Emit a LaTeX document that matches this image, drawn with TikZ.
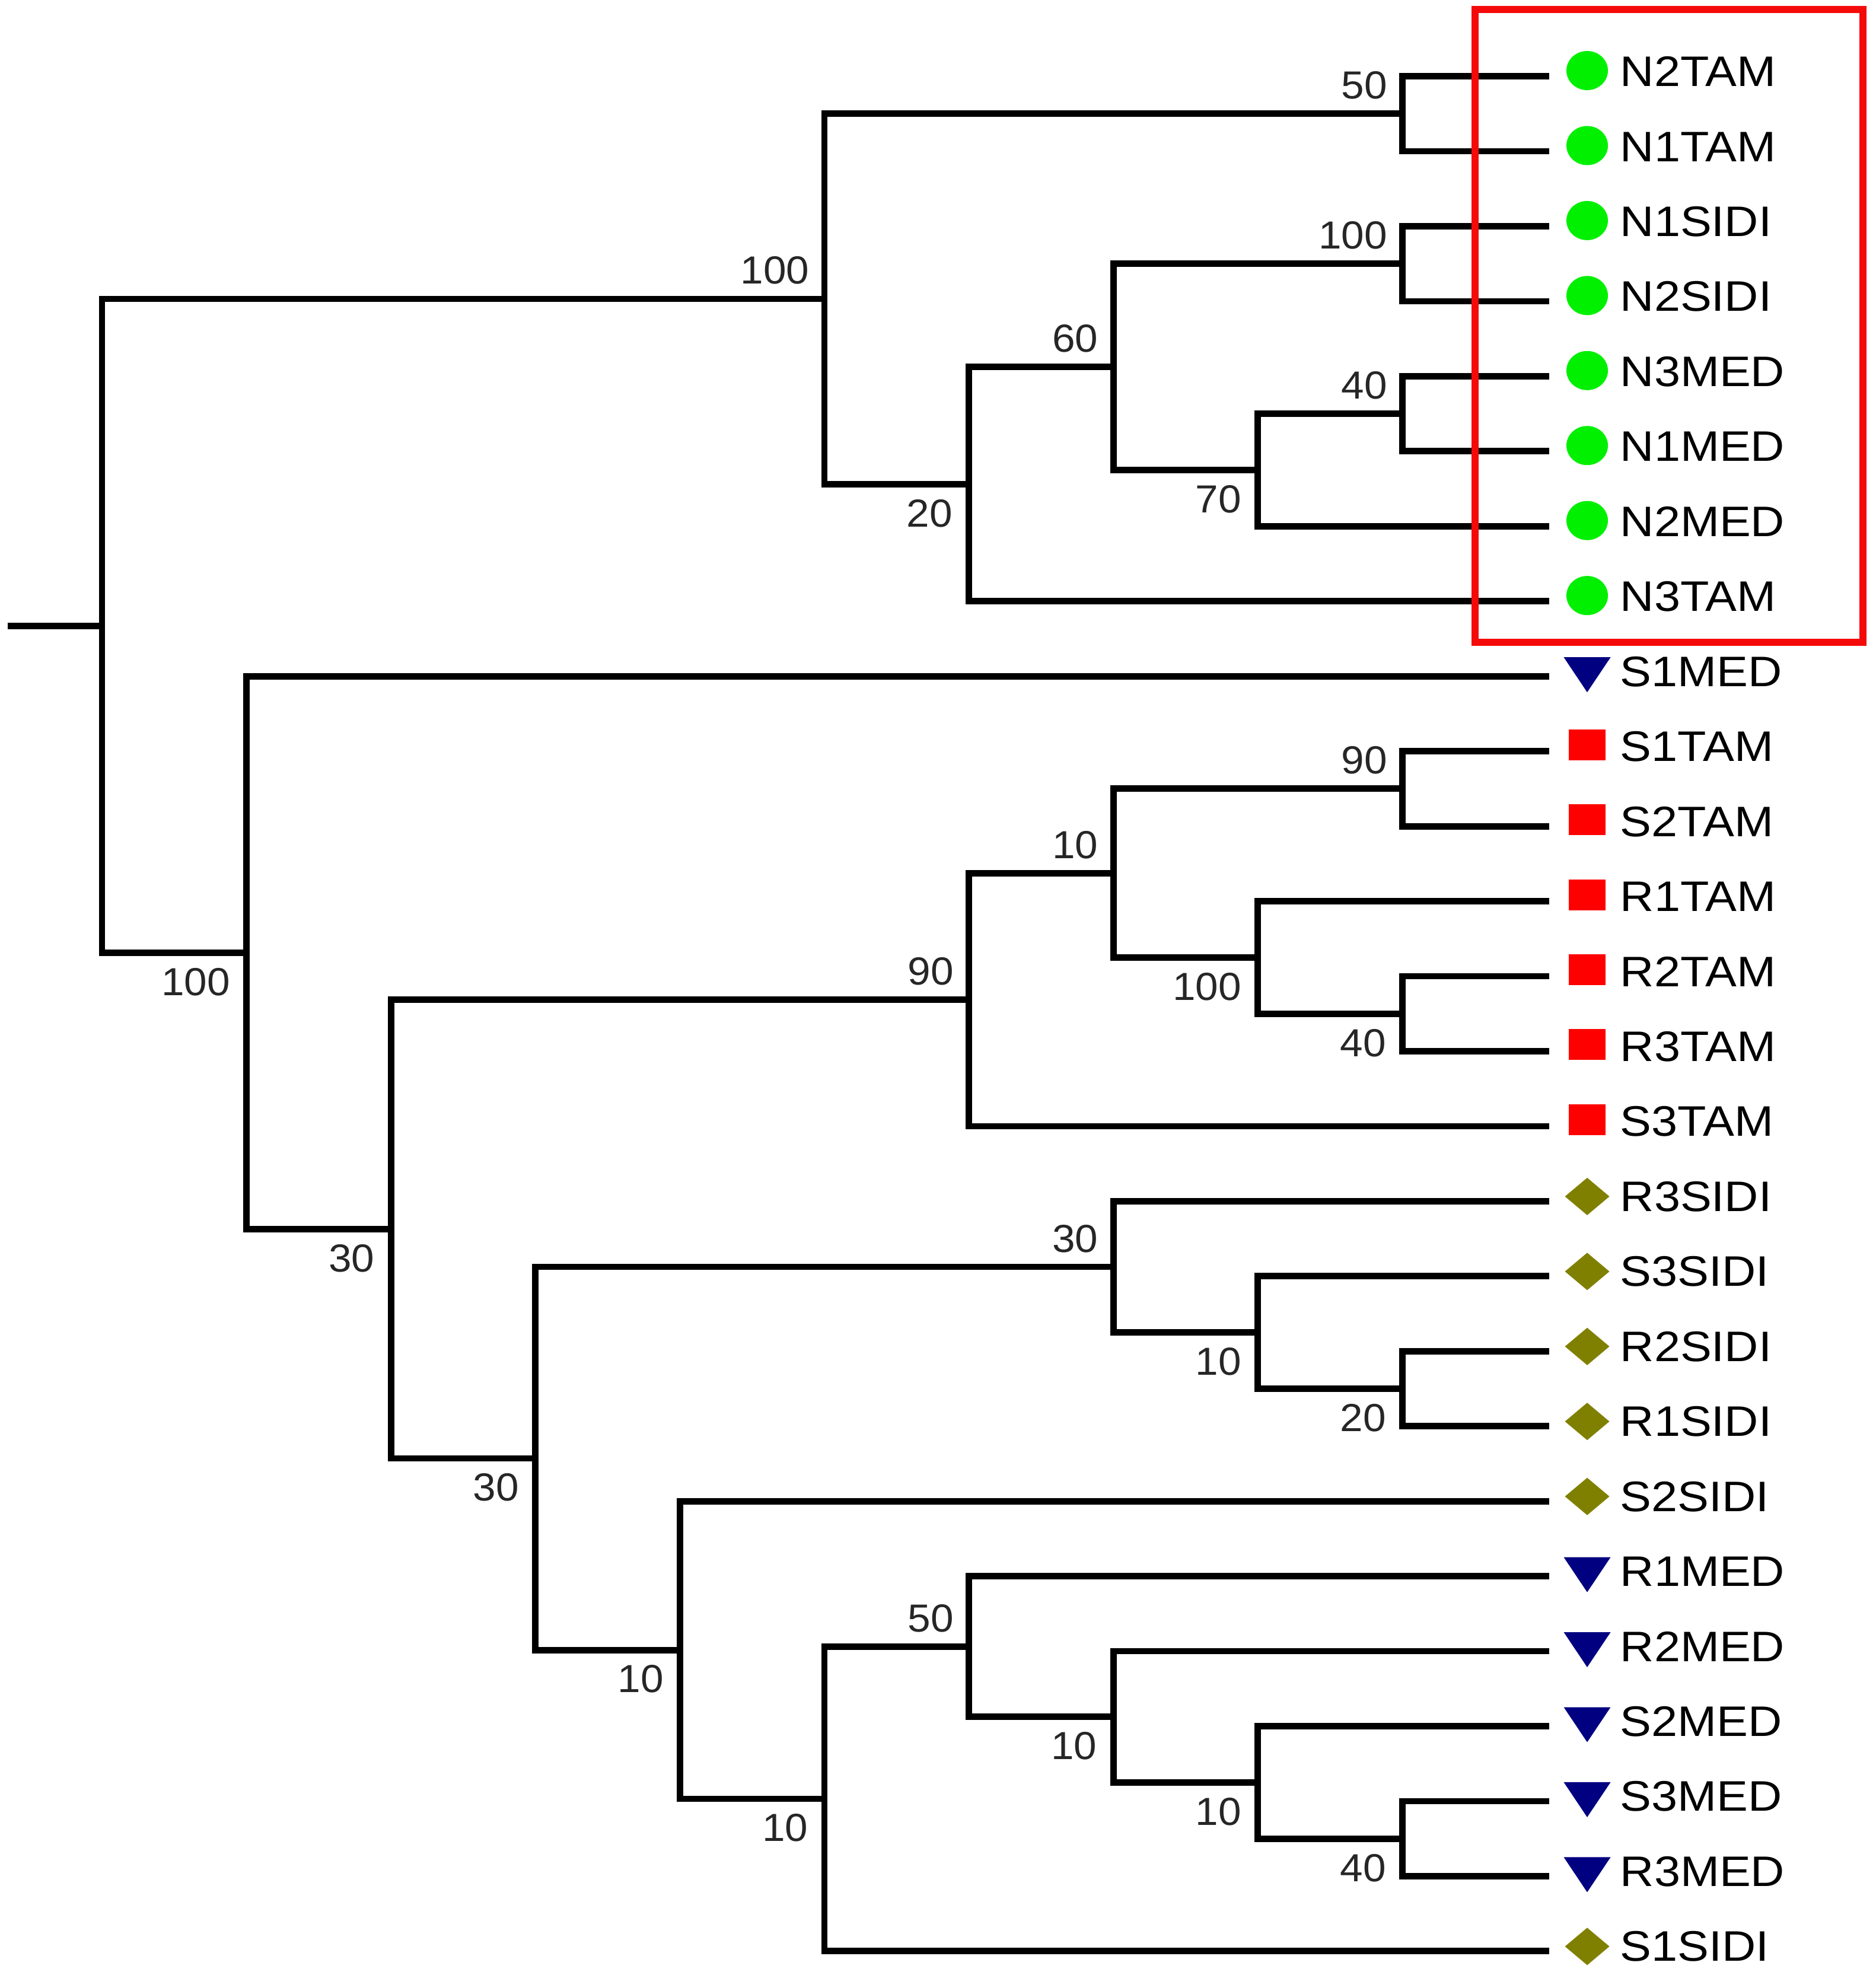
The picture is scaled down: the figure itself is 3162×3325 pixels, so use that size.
\documentclass[tikz,border=0pt]{standalone}
\usepackage{fontspec}
\setmainfont{Liberation Sans}
\newfontfamily\leaffont[FakeStretch=1.1]{Liberation Sans}
\newfontfamily\numfont[FakeStretch=1.05]{Liberation Sans}
\definecolor{mkgreen}{RGB}{0,240,0}
\definecolor{mknavy}{RGB}{0,0,128}
\definecolor{mkred}{RGB}{255,0,0}
\definecolor{mkolive}{RGB}{128,128,0}
\definecolor{boxred}{RGB}{245,10,10}
\begin{document}
\begin{tikzpicture}[x=0.25pt,y=-0.25pt,
  branch/.style={line width=2.7pt,line join=miter,draw=black},
  leaf/.style={anchor=base west,inner sep=0pt,font=\leaffont\fontsize{18}{20}\selectfont,text=black},
  bsup/.style={anchor=base east,inner sep=0pt,font=\numfont\fontsize{16.5}{18}\selectfont,text=black!85},
  bsdown/.style={anchor=north east,inner sep=0pt,font=\numfont\fontsize{16.5}{18}\selectfont,text=black!85},
  gcirc/.pic={\fill[mkgreen] (0,-9.6) ellipse [x radius=35, y radius=33];},
  ntri/.pic={\fill[mknavy] (-39.5,-32) -- (39.5,-32) -- (0,27) -- cycle;},
  rsq/.pic={\fill[mkred] (-31,-37) rectangle (31,15);},
  odia/.pic={\fill[mkolive] (-37.5,-8) -- (0,-39.5) -- (37.5,-8) -- (0,23.5) -- cycle;}
]
\useasboundingbox (0,0) rectangle (3162,3325);

% leaves
\foreach \i/\nm in {0/N2TAM,1/N1TAM,2/N1SIDI,3/N2SIDI,4/N3MED,5/N1MED,6/N2MED,7/N3TAM,
  8/S1MED,9/S1TAM,10/S2TAM,11/R1TAM,12/R2TAM,13/R3TAM,14/S3TAM,15/R3SIDI,16/S3SIDI,
  17/R2SIDI,18/R1SIDI,19/S2SIDI,20/R1MED,21/R2MED,22/S2MED,23/S3MED,24/R3MED,25/S1SIDI}{
  \coordinate (l\i) at (2612,{128.6+126.45*\i});
  \node[leaf] (t\i) at (2731,{128.6+126.45*\i+17}) {\nm};
}
\foreach \i in {0,...,7} \pic at (2676,{128.6+126.45*\i}) {gcirc};
\foreach \i in {8,20,21,22,23,24} \pic at (2676,{128.6+126.45*\i}) {ntri};
\foreach \i in {9,...,14} \pic at (2676,{128.6+126.45*\i}) {rsq};
\foreach \i in {15,16,17,18,19,25} \pic at (2676,{128.6+126.45*\i}) {odia};

% internal nodes
\foreach \n/\k/\v in {A/9/0.5, B/9/2.5, C/9/4.5, D/8/5.25, E/7/3.875, F/6/5.4375,
  G/5/2.96875, R/0/7.3271484375, H/1/11.685546875, I/2/15.37109375, J/6/12.3125,
  L/7/10.625, M/9/9.5, N/8/11.75, O/9/12.5, K/3/18.4296875, P/7/15.875, S/8/16.75,
  T/9/17.5, Q/4/20.984375, U/5/22.96875, V/6/20.9375, W/7/21.875, X/8/22.75, Y/9/23.5}{
  \coordinate (n\n) at ({172+243.6*\k},{128.6+126.45*\v});
}
\coordinate (root0) at (13,{128.6+126.45*7.3271484375});

% branches (upper child, parent, lower child)
\foreach \p/\u/\w in {A/l0/l1, B/l2/l3, C/l4/l5, D/nC/l6, E/nB/nD, F/nE/l7, G/nA/nF,
  R/nG/nH, H/l8/nI, I/nJ/nK, J/nL/l14, L/nM/nN, M/l9/l10, N/l11/nO, O/l12/l13,
  K/nP/nQ, P/l15/nS, S/l16/nT, T/l17/l18, Q/l19/nU, U/nV/l25, V/l20/nW, W/l21/nX,
  X/l22/nY, Y/l23/l24}{
  \draw[branch] (\u) -| (n\p) |- (\w);
}
\draw[branch] (root0) -- (nR);

% support values
\foreach \n/\t in {A/50, B/100, C/40, E/60, G/100, J/90, L/10, M/90, P/30, V/50}{
  \node[bsup] (b\n) at ([shift={(-25,-25)}]n\n) {\t};
}
\foreach \n/\t in {D/70, F/20, H/100, I/30, N/100, O/40, K/30, S/10, T/20, Q/10,
  U/10, W/10, X/10, Y/40}{
  \node[bsdown] (b\n) at ([shift={(-27,25)}]n\n) {\t};
}

% highlight box
\draw[boxred,line width=3pt] (2487,15.6) rectangle (3141,1083);
\end{tikzpicture}
\end{document}
